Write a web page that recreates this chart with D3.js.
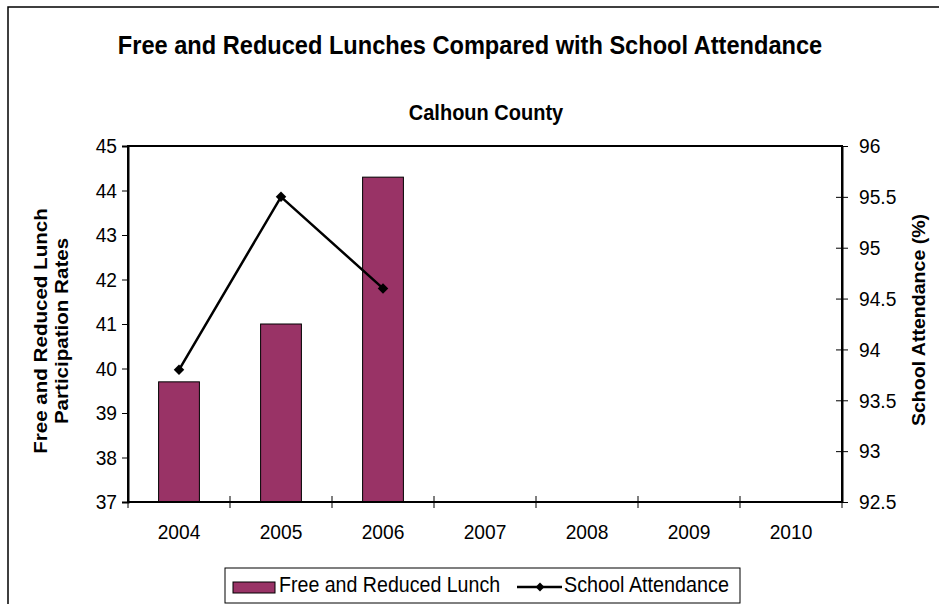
<!DOCTYPE html>
<html>
<head>
<meta charset="utf-8">
<script src="https://cdn.jsdelivr.net/npm/d3@7"></script>
<style>
  html, body { margin: 0; padding: 0; background: #fff; }
  svg { display: block; font-family: "Liberation Sans", Arial, sans-serif; }
</style>
</head>
<body>
<div id="chart"></div>
<script>
// chart data
var years = ['2004', '2005', '2006', '2007', '2008', '2009', '2010'];
var lunchRates = [39.7, 41.0, 44.3, null, null, null, null];
var attendance = [93.8, 95.5, 94.6, null, null, null, null];
var leftTicks = [37, 38, 39, 40, 41, 42, 43, 44, 45];
var rightTicks = [92.5, 93, 93.5, 94, 94.5, 95, 95.5, 96];

(function () {
  'use strict';

  var W = 939, H = 604;
  var plot = { left: 128, right: 842, top: 146, bottom: 502 };
  var barColor = '#993366';
  var SY = 1.1; // the original text is a bit taller than wide

  var svg = d3.select('#chart').append('svg')
    .attr('width', W).attr('height', H);

  // text with a small vertical stretch, anchored at (x, y)
  function label(parent, x, y, str, size, weight, anchor) {
    return parent.append('text')
      .attr('transform', 'translate(' + x + ',' + y + ') scale(1,' + SY + ')')
      .attr('text-anchor', anchor || 'start')
      .attr('font-size', size + 'px')
      .attr('font-weight', weight || 'normal')
      .text(str);
  }

  // outer frame (only top/left edges visible in the window)
  svg.append('rect')
    .attr('x', 8).attr('y', 7).attr('width', W + 20).attr('height', H + 20)
    .attr('fill', 'none').attr('stroke', '#000').attr('stroke-width', 1.5);

  // titles
  label(svg, 470, 54, 'Free and Reduced Lunches Compared with School Attendance', 23.6, 'bold', 'middle');
  label(svg, 486, 120, 'Calhoun County', 20, 'bold', 'middle');

  // scales
  var x = d3.scaleBand().domain(years)
    .range([plot.left, plot.right])
    .paddingInner(0.6).paddingOuter(0.3);
  var step = (plot.right - plot.left) / years.length;
  var yL = d3.scaleLinear().domain([37, 45]).range([plot.bottom, plot.top]);
  var yR = d3.scaleLinear().domain([92.5, 96]).range([plot.bottom, plot.top]);

  // plot border (top + sides)
  svg.append('path')
    .attr('d', 'M' + plot.left + ',' + plot.bottom + 'V' + plot.top + 'H' + plot.right + 'V' + plot.bottom)
    .attr('fill', 'none').attr('stroke', '#000').attr('stroke-width', 2);

  // bars
  var barData = years.map(function (y, i) { return { year: y, v: lunchRates[i] }; })
    .filter(function (d) { return d.v != null; });
  svg.append('g').selectAll('rect')
    .data(barData).join('rect')
    .attr('x', function (d) { return x(d.year); })
    .attr('width', x.bandwidth())
    .attr('y', function (d) { return yL(d.v); })
    .attr('height', function (d) { return yL(37) - yL(d.v); })
    .attr('fill', barColor).attr('stroke', '#000').attr('stroke-width', 1);

  // left axis
  var gL = svg.append('g').attr('transform', 'translate(' + plot.left + ',0)')
    .call(d3.axisLeft(yL).tickValues(leftTicks).tickSize(6).tickPadding(5).tickFormat(d3.format('d')));
  gL.select('.domain').attr('stroke-width', 2);

  // right axis
  var gR = svg.append('g').attr('transform', 'translate(' + plot.right + ',0)')
    .call(d3.axisRight(yR).tickValues(rightTicks).tickSizeInner(6).tickSizeOuter(0).tickPadding(11)
      .tickFormat(function (d) { return String(d); }));
  gR.select('.domain').attr('stroke-width', 2);
  gR.selectAll('.tick line').attr('x1', -6);

  svg.selectAll('.tick text')
    .attr('font-size', '19.2px').attr('fill', '#000')
    .attr('font-family', '"Liberation Sans", Arial, sans-serif')
    .attr('transform', 'scale(1,' + SY + ')');
  svg.selectAll('.tick line').attr('stroke', '#000');

  // bottom axis: ticks at category boundaries
  var gB = svg.append('g').attr('transform', 'translate(0,' + plot.bottom + ')');
  gB.append('line')
    .attr('x1', plot.left).attr('x2', plot.right)
    .attr('stroke', '#000').attr('stroke-width', 2);
  gB.selectAll('line.tk')
    .data(d3.range(years.length + 1)).join('line').attr('class', 'tk')
    .attr('x1', function (i) { return plot.left + i * step; })
    .attr('x2', function (i) { return plot.left + i * step; })
    .attr('y1', -6).attr('y2', 6)
    .attr('stroke', '#000').attr('stroke-width', 1);
  years.forEach(function (d) {
    label(gB, x(d) + x.bandwidth() / 2, 36.5, d, 19.2, 'normal', 'middle');
  });

  // axis titles (stretch runs along the text once rotated)
  var ty = svg.append('text')
    .attr('transform', 'translate(47,' + 331 + ') rotate(-90) scale(' + SY + ',1)')
    .attr('text-anchor', 'middle').attr('font-size', '18.7px').attr('font-weight', 'bold');
  ty.append('tspan').attr('x', 0).attr('dy', 0).text('Free and Reduced Lunch');
  ty.append('tspan').attr('x', 0).attr('dy', 21).text('Participation Rates');

  svg.append('text')
    .attr('transform', 'translate(925,' + 320 + ') rotate(-90) scale(' + SY + ',1)')
    .attr('text-anchor', 'middle').attr('font-size', '17.8px').attr('font-weight', 'bold')
    .text('School Attendance (%)');

  // attendance line
  var lineData = years.map(function (y, i) { return { year: y, v: attendance[i] }; })
    .filter(function (d) { return d.v != null; });
  var line = d3.line()
    .x(function (d) { return x(d.year) + x.bandwidth() / 2; })
    .y(function (d) { return yR(d.v); });
  svg.append('path').datum(lineData)
    .attr('d', line).attr('fill', 'none')
    .attr('stroke', '#000').attr('stroke-width', 2.5);
  var diamond = d3.symbol().type(d3.symbolDiamond2).size(70);
  svg.append('g').selectAll('path')
    .data(lineData).join('path')
    .attr('transform', function (d) {
      return 'translate(' + (x(d.year) + x.bandwidth() / 2) + ',' + yR(d.v) + ')';
    })
    .attr('d', diamond).attr('fill', '#000');

  // legend
  var lg = svg.append('g');
  lg.append('rect').attr('x', 225).attr('y', 568).attr('width', 515).attr('height', 35)
    .attr('fill', '#fff').attr('stroke', '#000').attr('stroke-width', 1);
  lg.append('rect').attr('x', 233).attr('y', 582).attr('width', 42).attr('height', 11)
    .attr('fill', barColor).attr('stroke', '#000').attr('stroke-width', 1);
  label(lg, 279, 592, 'Free and Reduced Lunch', 19.6, 'normal', 'start');
  lg.append('line').attr('x1', 517).attr('x2', 562).attr('y1', 587).attr('y2', 587)
    .attr('stroke', '#000').attr('stroke-width', 2.5);
  lg.append('path').attr('transform', 'translate(540,587)')
    .attr('d', d3.symbol().type(d3.symbolDiamond2).size(50)).attr('fill', '#000');
  label(lg, 564, 592, 'School Attendance', 19.8, 'normal', 'start');
})();
</script>
</body>
</html>
